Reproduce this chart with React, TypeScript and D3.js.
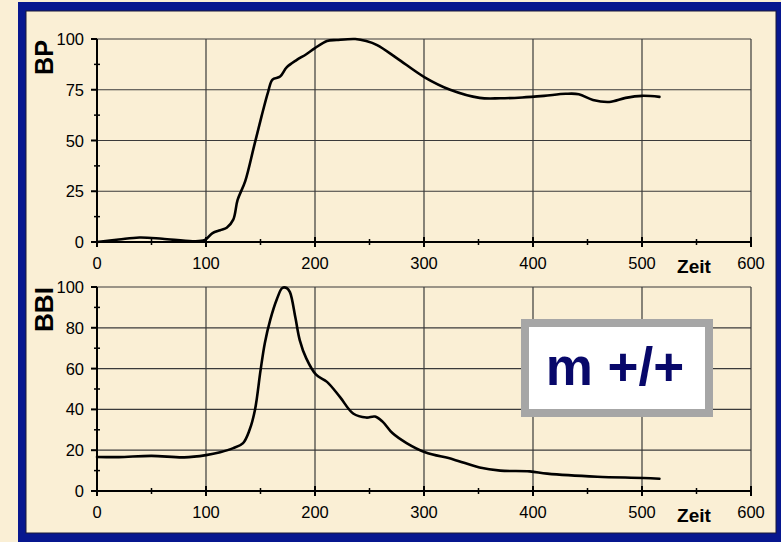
import React from "react";
import * as d3 from "d3";

const bpTime = [0, 20, 39, 60, 88, 99, 106, 113, 119, 125, 129, 136, 144, 151, 157, 161, 168, 174, 183, 192, 200, 211, 220, 237, 247, 257, 275, 301, 324, 351, 370, 390, 410, 430, 442, 455, 470, 485, 500, 516];
const bpValue = [0, 1.2, 2.2, 1.6, 0.4, 1, 4.4, 5.8, 7, 11, 20.7, 30, 47, 62, 74, 80, 81.5, 86, 89.6, 92.5, 95.5, 99, 99.5, 100, 99, 97, 90.6, 81, 75, 71, 70.8, 71.2, 72, 73, 72.8, 70, 69, 71, 72, 71.5];

const bbiTime = [0, 20, 50, 80, 100, 113, 125, 134, 140, 145, 150, 154, 159, 165, 170, 174, 177, 182, 186, 192, 201, 211, 223, 235, 247, 255, 262, 271, 284, 301, 327, 351, 370, 397, 413, 459, 501, 516];
const bbiValue = [16.7, 16.6, 17.2, 16.5, 17.6, 19, 21, 23.5, 30, 40, 59, 72.6, 84, 94, 99.5, 99.5, 97.5, 85, 74, 65, 57, 53.5, 46, 38, 36, 36.5, 34, 28.4, 23.5, 19, 15.5, 11.5, 10, 9.6, 8.5, 7, 6.4, 6];

const xTicks = [0, 100, 200, 300, 400, 500, 600];
const bpTicks = [0, 25, 50, 75, 100];
const bbiTicks = [0, 20, 40, 60, 80, 100];

const BEIGE = "#faefd5";
const BLUE = "#07178f";
const FONT = "'Liberation Sans', Arial, sans-serif";

type PanelProps = {
  top: number;
  bottom: number;
  ticks: number[];
  step: number;
  time: number[];
  values: number[];
  label: string;
  labelCenter: number;
  labelLen: number;
};

function Panel({ top, bottom, ticks, step, time, values, label, labelCenter, labelLen }: PanelProps) {
  const x = d3.scaleLinear().domain([0, 600]).range([97, 751]);
  const y = d3.scaleLinear().domain([0, 100]).range([bottom, top]);
  const pts = time.map((t, i) => [t, values[i]] as [number, number]);
  const line = d3
    .line<[number, number]>()
    .x((d) => x(d[0]))
    .y((d) => y(d[1]))
    .curve(d3.curveCatmullRom.alpha(0.5));
  const minorY = ticks.slice(0, -1).map((v) => v + step / 2);
  const minorX = xTicks.slice(0, -1).map((v) => v + 50);
  return (
    <g>
      {ticks.map((v) => (
        <line key={"gy" + v} x1={x(0)} x2={x(600)} y1={y(v)} y2={y(v)} stroke="#3a3a3a" strokeWidth={1.2} />
      ))}
      {xTicks.map((v) => (
        <line key={"gx" + v} x1={x(v)} x2={x(v)} y1={y(0)} y2={y(100)} stroke="#3a3a3a" strokeWidth={1.2} />
      ))}
      <line x1={x(0)} x2={x(0)} y1={y(0)} y2={y(100)} stroke="#000" strokeWidth={2} />
      <line x1={x(0)} x2={x(600)} y1={y(0)} y2={y(0)} stroke="#000" strokeWidth={2} />
      {ticks.map((v) => (
        <line key={"ty" + v} x1={x(0) - 6} x2={x(0)} y1={y(v)} y2={y(v)} stroke="#000" strokeWidth={2} />
      ))}
      {minorY.map((v) => (
        <line key={"my" + v} x1={x(0) - 3} x2={x(0) + 3} y1={y(v)} y2={y(v)} stroke="#000" strokeWidth={1.5} />
      ))}
      {xTicks.map((v) => (
        <line key={"tx" + v} x1={x(v)} x2={x(v)} y1={y(0) - 5} y2={y(0) + 5} stroke="#000" strokeWidth={2} />
      ))}
      {minorX.map((v) => (
        <line key={"mx" + v} x1={x(v)} x2={x(v)} y1={y(0) - 3} y2={y(0) + 3} stroke="#000" strokeWidth={1.5} />
      ))}
      {ticks.map((v) => (
        <text key={"ly" + v} x={x(0) - 13} y={y(v) + 6} textAnchor="end" fontSize={16.5} fontFamily={FONT} fill="#000">
          {v}
        </text>
      ))}
      {xTicks.map((v) => (
        <text key={"lx" + v} x={x(v)} y={y(0) + 27} textAnchor="middle" fontSize={16.5} fontFamily={FONT} fill="#000">
          {v}
        </text>
      ))}
      <text x={694} y={y(0) + 31} textAnchor="middle" fontSize={19} fontWeight="bold" fontFamily={FONT} fill="#000">
        Zeit
      </text>
      <text
        transform={`translate(53, ${labelCenter}) rotate(-90)`}
        x={-labelLen / 2}
        y={0}
        textLength={labelLen}
        lengthAdjust="spacingAndGlyphs"
        fontSize={25}
        fontWeight="bold"
        fontFamily={FONT}
        fill="#000"
      >
        {label}
      </text>
      <path d={line(pts) || ""} fill="none" stroke="#000" strokeWidth={2.6} strokeLinejoin="round" strokeLinecap="round" />
    </g>
  );
}

export default function App() {
  return (
    <svg width={781} height={542} style={{ position: "absolute", left: 0, top: 0 }}>
      <rect x={0} y={0} width={781} height={542} fill={BEIGE} />
      <rect x={18} y={2} width={775} height={550} fill={BLUE} />
      <rect x={26} y={11} width={750} height={522} fill={BEIGE} stroke="#1a1a3a" strokeWidth={1} />
      <Panel top={39} bottom={242} ticks={bpTicks} step={25} time={bpTime} values={bpValue} label="BP" labelCenter={57.5} labelLen={35} />
      <Panel top={287} bottom={491} ticks={bbiTicks} step={20} time={bbiTime} values={bbiValue} label="BBI" labelCenter={309.5} labelLen={45} />
      <rect x={525} y={323} width={184} height={90} fill="#ffffff" stroke="#a6a6a6" strokeWidth={8} />
      <text x={615} y={385} textAnchor="middle" fontSize={53} fontWeight="bold" fontFamily={FONT} fill="#08086a">
        m +/+
      </text>
    </svg>
  );
}
